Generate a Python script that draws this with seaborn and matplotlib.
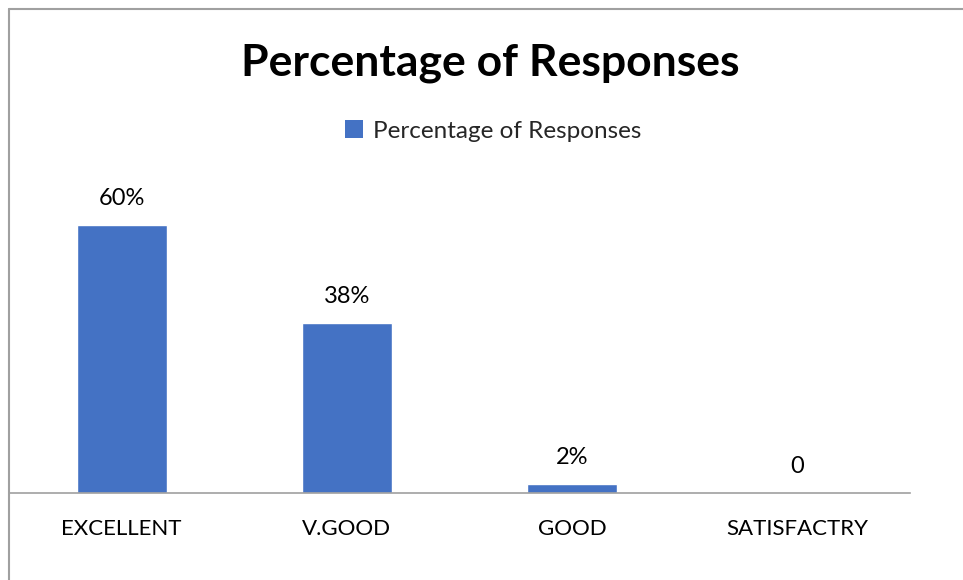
import matplotlib
matplotlib.use('Agg')
import matplotlib.pyplot as plt
import seaborn as sns
import pandas as pd
from matplotlib.lines import Line2D
from matplotlib.patches import Patch

# Data
categorias = ['EXCELLENT', 'V.GOOD', 'GOOD', 'SATISFACTRY']
percentuais = [60, 38, 2, 0]
rotulos = ['60%', '38%', '2%', '0']

sns.set_theme(style='white')
plt.rcParams['font.family'] = ['Lato', 'DejaVu Sans']

cor_barra = '#4472C4'
cor_borda = '#A0A0A0'

df = pd.DataFrame({'categoria': categorias, 'valor': percentuais})

fig = plt.figure(figsize=(9.63, 5.80), dpi=100)
ax = fig.add_axes([9 / 963, 87 / 580, 901 / 963, 313 / 580])

sns.barplot(data=df, x='categoria', y='valor', color=cor_barra, width=0.4,
            saturation=1, ax=ax)

ax.set_xlim(-0.5, 3.5)
ax.set_ylim(0, 70)
ax.set_xlabel('')
ax.set_ylabel('')
ax.set_yticks([])
ax.tick_params(axis='x', length=0, labelsize=16, pad=19, colors='black')
for lado in ['top', 'right', 'left']:
    ax.spines[lado].set_visible(False)
ax.spines['bottom'].set_color(cor_borda)
ax.spines['bottom'].set_linewidth(1.2)

# Rótulos de dados
for i, (v, r) in enumerate(zip(percentuais, rotulos)):
    ax.annotate(r, (i, v), xytext=(0, 19), textcoords='offset points',
                ha='center', va='center', fontsize=17, color='black')

# Título e legenda
fig.text(490 / 963, 1 - 63 / 580, 'Percentage of Responses', ha='center', va='center',
         fontsize=32, fontweight='bold', color='black')
handle = Patch(facecolor=cor_barra, edgecolor='none')
fig.legend([handle], ['Percentage of Responses'], loc='center',
           bbox_to_anchor=(493 / 963, 1 - 131 / 580), frameon=False, fontsize=17.5,
           handlelength=0.75, handleheight=0.75, handletextpad=0.4)

# Moldura do gráfico
fig.add_artist(Line2D([9 / 963, 9 / 963], [0, 1 - 9 / 580], transform=fig.transFigure,
                      color=cor_borda, linewidth=1.5))
fig.add_artist(Line2D([9 / 963, 1], [1 - 9 / 580, 1 - 9 / 580], transform=fig.transFigure,
                      color=cor_borda, linewidth=1.5))

fig.savefig('out.png', dpi=100)
